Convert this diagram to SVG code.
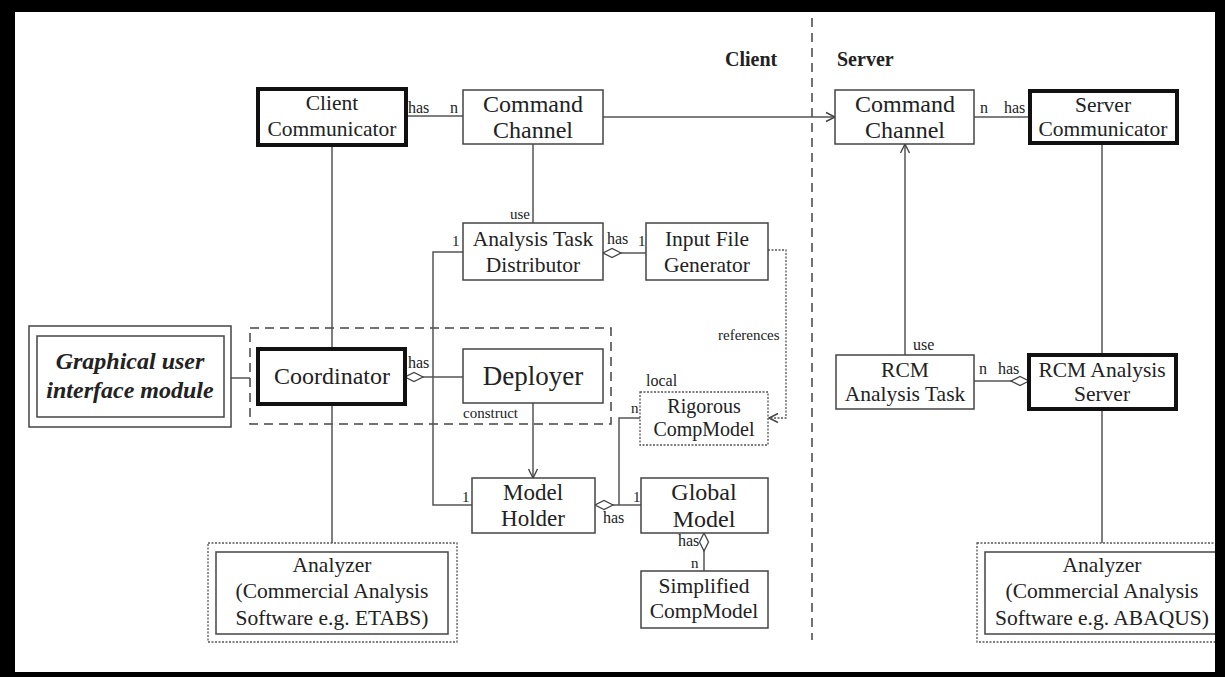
<svg xmlns="http://www.w3.org/2000/svg" width="1225" height="677" viewBox="0 0 1225 677">
<style>
text{font-family:"Liberation Serif","Times New Roman",serif;fill:#222;text-anchor:middle}
.box{fill:#fff;stroke:#444;stroke-width:1.5}
.thick{fill:#fff;stroke:#111;stroke-width:4}
.dot{fill:#fff;stroke:#555;stroke-width:1.3;stroke-dasharray:2 1.5}
.t{font-size:21.5px}
.lbl{font-size:15px;text-anchor:start}
.ln{fill:none;stroke:#555;stroke-width:1.5}
.dashln{fill:none;stroke:#444;stroke-width:1.5;stroke-dasharray:9 6}
.refln{fill:none;stroke:#555;stroke-width:1.3;stroke-dasharray:2 1.5}
.hdr{font-size:20px;font-weight:bold;text-anchor:start}
</style>
<defs>
<marker id="arr" markerUnits="userSpaceOnUse" markerWidth="12" markerHeight="12" refX="10" refY="5" orient="auto" viewBox="0 0 12 10">
<path d="M1,0.5 L10,5 L1,9.5" fill="none" stroke="#444" stroke-width="1.4"/>
</marker>
<marker id="dia" markerUnits="userSpaceOnUse" markerWidth="20" markerHeight="12" refX="0.5" refY="5" orient="auto" viewBox="0 0 20 10">
<path d="M0.5,5 L9.5,0.5 L18.5,5 L9.5,9.5 Z" fill="#fff" stroke="#444" stroke-width="1.3"/>
</marker>
</defs>
<rect x="0" y="0" width="1225" height="677" fill="#fff"/>

<!-- client/server separator -->
<g id="separator">
<line x1="812" y1="18" x2="812" y2="640" class="dashln"/>
<text x="725" y="66" class="hdr">Client</text>
<text x="837" y="66" class="hdr">Server</text>
</g>

<!-- dashed group around coordinator/deployer -->
<g id="coordGroup">
<rect x="250" y="328" width="361" height="96" fill="none" stroke="#444" stroke-width="1.5" stroke-dasharray="9 6"/>
</g>

<g id="connectors">
<path class="ln" d="M406,116 H463"/>
<path class="ln" d="M603,117 H835" marker-end="url(#arr)"/>
<path class="ln" d="M974,117 H1030"/>
<path class="ln" d="M533,144 V223"/>
<path class="ln" d="M603,253 H646" marker-start="url(#dia)"/>
<path class="ln" d="M463,252 H433 V505 H472"/>
<path class="ln" d="M332,145 V349"/>
<path class="ln" d="M332,404 V543"/>
<path class="ln" d="M231,378 H250"/>
<path class="ln" d="M405,377 H463" marker-start="url(#dia)"/>
<path class="ln" d="M533,403 V478" marker-end="url(#arr)"/>
<path class="ln" d="M595,505 H641" marker-start="url(#dia)"/>
<path class="ln" d="M640,418 H619 V505"/>
<path class="ln" d="M704,533 V571" marker-start="url(#dia)"/>
<path class="refln" d="M768,250 H786 V418 H769" marker-end="url(#arr)"/>
<path class="ln" d="M905,355 V144" marker-end="url(#arr)"/>
<path class="ln" d="M1029,381 H974" marker-start="url(#dia)"/>
<path class="ln" d="M1102,143 V355"/>
<path class="ln" d="M1102,409 V543"/>
<!-- labels -->
<text x="408" y="113" class="lbl" style="font-size:16px">has</text>
<text x="450" y="113" class="lbl" style="font-size:16px">n</text>
<text x="980" y="113" class="lbl" style="font-size:16px">n</text>
<text x="1004" y="113" class="lbl" style="font-size:16px">has</text>
<text x="510" y="219" class="lbl">use</text>
<text x="452" y="246" class="lbl">1</text>
<text x="607" y="244" class="lbl" style="font-size:16px">has</text>
<text x="638" y="246" class="lbl">1</text>
<text x="408" y="368" class="lbl" style="font-size:16px">has</text>
<text x="463" y="418" class="lbl">construct</text>
<text x="718" y="340" class="lbl">references</text>
<text x="646" y="386" class="lbl" style="font-size:16px">local</text>
<text x="631" y="413" class="lbl">n</text>
<text x="462" y="502" class="lbl">1</text>
<text x="633" y="502" class="lbl">1</text>
<text x="603" y="523" class="lbl" style="font-size:16px">has</text>
<text x="678" y="546" class="lbl" style="font-size:16px">has</text>
<text x="691" y="568" class="lbl">n</text>
<text x="913" y="350" class="lbl" style="font-size:16px">use</text>
<text x="979" y="374" class="lbl" style="font-size:16px">n</text>
<text x="998" y="374" class="lbl" style="font-size:16px">has</text>
</g>

<g id="clientCommunicator">
<rect x="258" y="89" width="148" height="56" class="thick"/>
<text x="332" y="110" class="t">Client</text>
<text x="332" y="136" class="t">Communicator</text>
</g>

<g id="commandChannelClient">
<rect x="463" y="90" width="140" height="54" class="box"/>
<text x="533" y="112" style="font-size:24px">Command</text>
<text x="533" y="138" style="font-size:24px">Channel</text>
</g>

<g id="commandChannelServer">
<rect x="835" y="90" width="139" height="54" class="box"/>
<text x="905" y="112" style="font-size:24px">Command</text>
<text x="905" y="138" style="font-size:24px">Channel</text>
</g>

<g id="serverCommunicator">
<rect x="1030" y="91" width="147" height="52" class="thick"/>
<text x="1103" y="112" class="t">Server</text>
<text x="1103" y="136" class="t">Communicator</text>
</g>

<g id="analysisTaskDistributor">
<rect x="463" y="223" width="140" height="57" class="box"/>
<text x="533" y="246" class="t">Analysis Task</text>
<text x="533" y="272" class="t">Distributor</text>
</g>

<g id="inputFileGenerator">
<rect x="646" y="223" width="122" height="57" class="box"/>
<text x="707" y="246" class="t">Input File</text>
<text x="707" y="272" class="t">Generator</text>
</g>

<g id="gui">
<rect x="29" y="326" width="202" height="101" class="box"/>
<rect x="37" y="336" width="187" height="81" class="box"/>
<text x="130" y="369" style="font-size:24px;font-weight:bold;font-style:italic">Graphical user</text>
<text x="130" y="398" style="font-size:24px;font-weight:bold;font-style:italic">interface module</text>
</g>

<g id="coordinator">
<rect x="258" y="349" width="147" height="55" class="thick"/>
<text x="332" y="384" style="font-size:24px">Coordinator</text>
</g>

<g id="deployer">
<rect x="463" y="349" width="140" height="54" class="box"/>
<text x="533" y="385" style="font-size:27px">Deployer</text>
</g>

<g id="rigorousCompModel">
<rect x="640" y="392" width="128" height="53" class="dot"/>
<text x="704" y="413" style="font-size:20px">Rigorous</text>
<text x="704" y="436" style="font-size:20px">CompModel</text>
</g>

<g id="modelHolder">
<rect x="472" y="478" width="123" height="55" class="box"/>
<text x="533" y="500" style="font-size:23px">Model</text>
<text x="533" y="526" style="font-size:23px">Holder</text>
</g>

<g id="globalModel">
<rect x="641" y="478" width="127" height="55" class="box"/>
<text x="704" y="500" style="font-size:24px">Global</text>
<text x="704" y="527" style="font-size:24px">Model</text>
</g>

<g id="simplifiedCompModel">
<rect x="641" y="571" width="127" height="57" class="box"/>
<text x="704" y="593" class="t">Simplified</text>
<text x="704" y="618" class="t">CompModel</text>
</g>

<g id="rcmAnalysisTask">
<rect x="836" y="355" width="138" height="54" class="box"/>
<text x="905" y="377" class="t">RCM</text>
<text x="905" y="401" class="t">Analysis Task</text>
</g>

<g id="rcmAnalysisServer">
<rect x="1029" y="355" width="147" height="54" class="thick"/>
<text x="1102" y="377" class="t">RCM Analysis</text>
<text x="1102" y="401" class="t">Server</text>
</g>

<g id="analyzerClient">
<rect x="208" y="543" width="249" height="99" class="dot"/>
<rect x="216" y="552" width="232" height="82" class="box"/>
<text x="332" y="572" class="t">Analyzer</text>
<text x="332" y="598" class="t">(Commercial Analysis</text>
<text x="332" y="625" class="t">Software e.g. ETABS)</text>
</g>

<g id="analyzerServer">
<rect x="977" y="543" width="250" height="99" class="dot"/>
<rect x="985" y="552" width="234" height="82" class="box"/>
<text x="1102" y="572" class="t">Analyzer</text>
<text x="1102" y="598" class="t">(Commercial Analysis</text>
<text x="1102" y="625" class="t">Software e.g. ABAQUS)</text>
</g>

<path id="frame" d="M0,0 H1225 V677 H0 Z M15,12 V672 H1215 V12 Z" fill="#000" fill-rule="evenodd"/>
</svg>
